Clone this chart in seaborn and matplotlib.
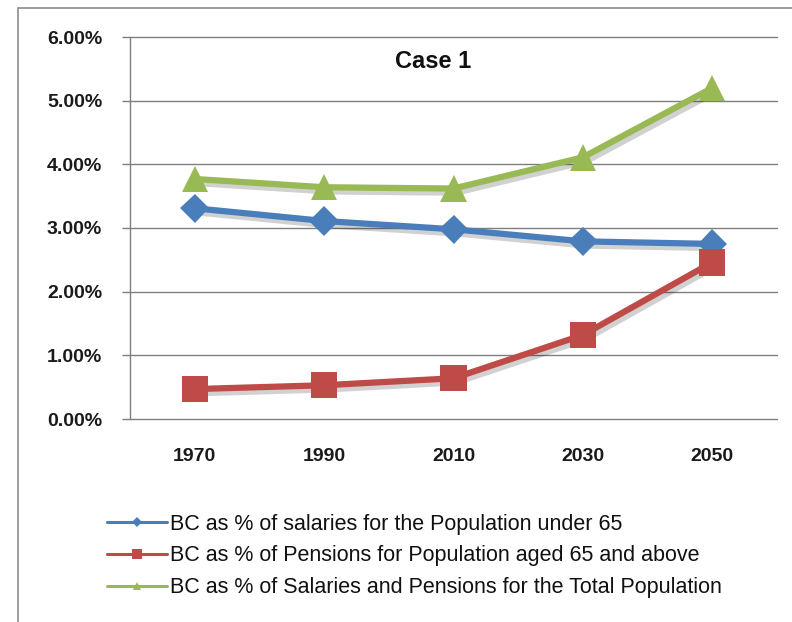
import matplotlib
matplotlib.use("Agg")
import matplotlib.pyplot as plt
import matplotlib.patheffects as pe
from matplotlib.patches import Rectangle
from matplotlib.lines import Line2D
from matplotlib.ticker import FuncFormatter
import seaborn as sns
import pandas as pd

years = ["1970", "1990", "2010", "2030", "2050"]
salaries_under65 = [3.31, 3.11, 2.98, 2.79, 2.75]
pensions_65plus = [0.47, 0.53, 0.64, 1.32, 2.46]
total_population = [3.77, 3.64, 3.62, 4.11, 5.20]
series_labels = [
    "BC as % of salaries for the Population under 65",
    "BC as % of Pensions for Population aged 65 and above",
    "BC as % of Salaries and Pensions for the Total Population",
]
title = "Case 1"

colors = ["#4A7EBB", "#BE4B48", "#98B954"]
markers = ["D", "s", "^"]
msizes = [15, 19, 19]

sns.set_theme(style="white")
plt.rcParams["font.family"] = ["Liberation Sans", "DejaVu Sans"]

fig = plt.figure(figsize=(7.92, 6.22), dpi=100)
ax = fig.add_axes([130 / 792, 1 - 419 / 622, (777 - 130) / 792, (419 - 37) / 622])

df = pd.DataFrame({
    "year": years * 3,
    "value": salaries_under65 + pensions_65plus + total_population,
    "series": sum([[s] * len(years) for s in series_labels], []),
})

shadow = [pe.SimpleLineShadow(offset=(2, -3), alpha=0.18, shadow_color="black"), pe.Normal()]
for i, s in enumerate(series_labels):
    sub = df[df["series"] == s]
    sns.lineplot(data=sub, x="year", y="value", ax=ax, color=colors[i],
                 linewidth=4.5, marker=markers[i], markersize=msizes[i],
                 markeredgewidth=0, sort=False, legend=False,
                 path_effects=shadow, zorder=3)

ax.set_xlim(-0.5, 4.5)
ax.set_ylim(0, 6)
ax.set_yticks([0, 1, 2, 3, 4, 5, 6])
ax.yaxis.set_major_formatter(FuncFormatter(lambda v, p: f"{v:.2f}%"))
ax.grid(axis="y", color="#7f7f7f", linewidth=1.0)
ax.grid(axis="x", visible=False)
for gl in ax.get_ygridlines():
    gl.set_clip_on(False)
ax.set_axisbelow(True)
for side in ["top", "right", "bottom"]:
    ax.spines[side].set_visible(False)
ax.spines["left"].set_color("#7f7f7f")
ax.spines["left"].set_linewidth(1.0)
ax.tick_params(axis="y", length=6, color="#7f7f7f", width=1, left=True, pad=14)
ax.tick_params(axis="x", length=0, pad=21)
ax.set_xlabel("")
ax.set_ylabel("")
for lab in ax.get_yticklabels() + ax.get_xticklabels():
    lab.set_fontweight("bold")
    lab.set_fontsize(14)
    lab.set_color("#1a1a1a")

ax.text(0.468, 0.935, title, transform=ax.transAxes, ha="center", va="center",
        fontsize=17, fontweight="bold", color="#111111")

handles = [Line2D([0], [0], color=colors[i], linewidth=2.2, marker=markers[i],
                  markersize=[5, 7, 6][i], markeredgewidth=0)
           for i in range(3)]
leg = fig.legend(handles, series_labels, loc="upper left",
                 bbox_to_anchor=(98 / 792, 1 - 505 / 622), frameon=False,
                 fontsize=15.5, handlelength=2.8, handletextpad=0.15,
                 labelspacing=0.5, borderaxespad=0)
for t in leg.get_texts():
    t.set_color("#111111")

fig.patches.append(Rectangle((18 / 792, -0.05), 1.2, 1 - 8 / 622 + 0.05,
                             transform=fig.transFigure, fill=False,
                             edgecolor="#8c8c8c", linewidth=1.2))

fig.savefig("out.png", dpi=100)
